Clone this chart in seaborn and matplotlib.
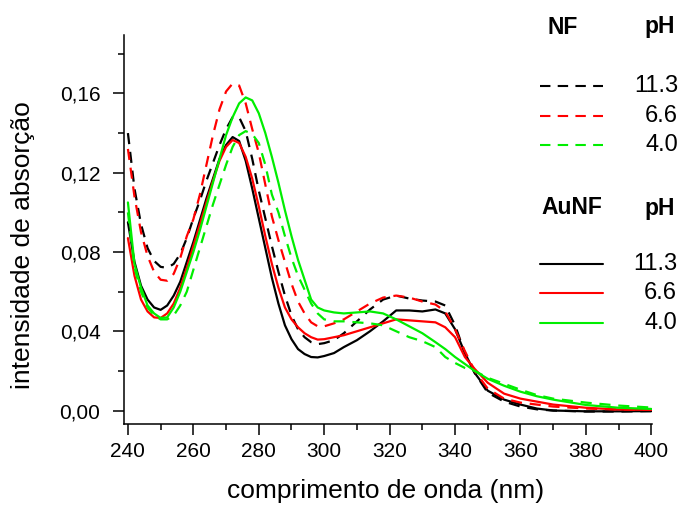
import numpy as np
import pandas as pd
import matplotlib
matplotlib.use("Agg")
import matplotlib.pyplot as plt
from matplotlib.lines import Line2D
import seaborn as sns

# ---------------- data ----------------
wavelength = [240, 242, 244, 246, 248, 250, 252, 254, 256, 258, 260, 262, 264, 266, 268,
              270, 272, 274, 276, 278, 280, 282, 284, 286, 288, 290, 292, 294, 296, 298,
              300, 303, 306, 310, 314, 318, 322, 326, 330, 334, 337, 340, 343, 346, 350,
              355, 360, 365, 370, 380, 390, 400]

nf_113 = [0.140, 0.112, 0.094, 0.082, 0.0755, 0.0725, 0.072, 0.074, 0.079, 0.087, 0.097, 0.106,
          0.116, 0.125, 0.134, 0.142, 0.148, 0.148, 0.141, 0.127, 0.111, 0.097, 0.083, 0.070,
          0.058, 0.048, 0.041, 0.037, 0.0345, 0.0335, 0.034, 0.0355, 0.039, 0.045, 0.051, 0.056,
          0.058, 0.0565, 0.0555, 0.055, 0.053, 0.043, 0.029, 0.019, 0.009, 0.0045, 0.002, 0.0006,
          0.0, -0.0005, -0.0005, -0.0003]
nf_66 = [0.132, 0.108, 0.090, 0.078, 0.070, 0.066, 0.0655, 0.069, 0.077, 0.088, 0.0965, 0.109,
         0.124, 0.139, 0.152, 0.161, 0.165, 0.164, 0.155, 0.142, 0.130, 0.114, 0.098, 0.086,
         0.075, 0.064, 0.055, 0.049, 0.0445, 0.0425, 0.0425, 0.044, 0.046, 0.050, 0.054, 0.057,
         0.058, 0.057, 0.055, 0.0535, 0.050, 0.041, 0.030, 0.020, 0.011, 0.006, 0.004, 0.003,
         0.002, 0.001, 0.0005, 0.0003]
nf_40 = [0.100, 0.072, 0.060, 0.052, 0.048, 0.046, 0.046, 0.048, 0.053, 0.060, 0.071, 0.082,
         0.093, 0.104, 0.114, 0.124, 0.133, 0.139, 0.141, 0.1395, 0.135, 0.124, 0.109, 0.100,
         0.088, 0.077, 0.068, 0.061, 0.054, 0.049, 0.046, 0.045, 0.045, 0.0445, 0.044, 0.043,
         0.040, 0.037, 0.035, 0.032, 0.027, 0.024, 0.0215, 0.020, 0.0165, 0.0135, 0.0105, 0.0078,
         0.006, 0.004, 0.0025, 0.0015]
aunf_113 = [0.095, 0.075, 0.063, 0.056, 0.052, 0.0508, 0.053, 0.058, 0.065, 0.075, 0.085, 0.096,
            0.107, 0.117, 0.127, 0.134, 0.138, 0.136, 0.126, 0.112, 0.097, 0.082, 0.067, 0.054,
            0.043, 0.036, 0.031, 0.0285, 0.027, 0.0268, 0.0275, 0.029, 0.032, 0.0355, 0.040, 0.045,
            0.0505, 0.0505, 0.050, 0.051, 0.049, 0.041, 0.029, 0.019, 0.010, 0.0055, 0.003, 0.001,
            0.0, -0.0004, -0.0004, -0.0003]
aunf_66 = [0.087, 0.068, 0.056, 0.050, 0.047, 0.0467, 0.049, 0.054, 0.062, 0.072, 0.083, 0.094,
           0.105, 0.116, 0.126, 0.133, 0.1365, 0.135, 0.128, 0.117, 0.103, 0.088, 0.074, 0.062,
           0.052, 0.046, 0.042, 0.039, 0.037, 0.0358, 0.036, 0.037, 0.038, 0.040, 0.042, 0.044,
           0.046, 0.0455, 0.045, 0.0445, 0.042, 0.037, 0.027, 0.021, 0.014, 0.0085, 0.006, 0.0045,
           0.003, 0.0014, 0.0005, 0.0003]
aunf_40 = [0.105, 0.074, 0.062, 0.053, 0.049, 0.0467, 0.047, 0.052, 0.060, 0.070, 0.080, 0.091,
           0.103, 0.115, 0.127, 0.139, 0.148, 0.155, 0.158, 0.1565, 0.150, 0.140, 0.128, 0.115,
           0.101, 0.088, 0.076, 0.066, 0.056, 0.052, 0.0505, 0.0495, 0.049, 0.0495, 0.050, 0.049,
           0.046, 0.0425, 0.039, 0.0345, 0.031, 0.027, 0.0235, 0.020, 0.016, 0.0125, 0.0095, 0.0072,
           0.0055, 0.0028, 0.0014, 0.0008]

ph_labels = ["11.3", "6.6", "4.0"]
samples = ["NF", "AuNF"]
colors = ["#000000", "#ff0000", "#00ee00"]

series = {("NF", "11.3"): nf_113, ("NF", "6.6"): nf_66, ("NF", "4.0"): nf_40,
          ("AuNF", "11.3"): aunf_113, ("AuNF", "6.6"): aunf_66, ("AuNF", "4.0"): aunf_40}

rows = []
for (s, ph), vals in series.items():
    for w, v in zip(wavelength, vals):
        rows.append({"wl": w, "abs": v, "pH": ph, "sample": s})
df = pd.DataFrame(rows)

# ---------------- style ----------------
sns.set_style("ticks")
plt.rcParams["font.family"] = ["Liberation Sans", "DejaVu Sans"]
plt.rcParams["text.color"] = "black"
plt.rcParams["axes.labelcolor"] = "black"
plt.rcParams["xtick.color"] = "black"
plt.rcParams["ytick.color"] = "black"

fig = plt.figure(figsize=(6.79, 5.07), dpi=100)
W, H = 679, 507
ax = fig.add_axes([124 / W, 1 - 424 / H, (652 - 124) / W, (424 - 35) / H])

palette = dict(zip(ph_labels, colors))
dash_map = {"NF": (5, 3.5), "AuNF": ""}
sns.lineplot(data=df, x="wl", y="abs", hue="pH", style="sample", palette=palette,
             dashes=dash_map, hue_order=ph_labels, style_order=samples,
             estimator=None, sort=False, legend=False, linewidth=1.6, ax=ax)

ax.set_xlim(238.8, 400.2)
ax.set_ylim(-0.0068, 0.1895)
ax.set_xticks(np.arange(240, 401, 20))
ax.set_xticks(np.arange(250, 400, 20), minor=True)
ax.set_yticks([0.00, 0.04, 0.08, 0.12, 0.16])
ax.set_yticks([0.02, 0.06, 0.10, 0.14, 0.18], minor=True)
ax.set_yticklabels(["0,00", "0,04", "0,08", "0,12", "0,16"])
ax.tick_params(axis="both", which="major", length=8, width=1.1, labelsize=15, color="black",
               labelcolor="black")
ax.tick_params(axis="y", which="major", pad=9)
ax.tick_params(axis="x", which="major", pad=5)
ax.tick_params(axis="both", which="minor", length=4.5, width=1.1, color="black")
for side in ["top", "right"]:
    ax.spines[side].set_visible(False)
for side in ["left", "bottom"]:
    ax.spines[side].set_linewidth(1.1)
    ax.spines[side].set_color("black")

ax.set_xlabel("comprimento de onda (nm)", fontsize=19, color="black")
ax.set_ylabel("intensidade de absorção", fontsize=19, color="black")
ax.xaxis.set_label_coords((386 - 124) / 528, (424 - 479) / 389)
ax.yaxis.set_label_coords((35 - 124) / 528, (424 - 245) / 389)

# ---------------- legend (manual, figure coords) ----------------
def fx(x):
    return x / W

def fy(y):
    return 1 - y / H

fig.text(fx(563), fy(27), "NF", ha="center", va="center", fontsize=16.5, fontweight="bold")
fig.text(fx(644), fy(27), "pH", ha="left", va="center", fontsize=16.5, fontweight="bold")
fig.text(fx(572), fy(208), "AuNF", ha="center", va="center", fontsize=16.5, fontweight="bold")
fig.text(fx(644), fy(208), "pH", ha="left", va="center", fontsize=16.5, fontweight="bold")

nf_rows = [86, 116, 145]
au_rows = [264, 293, 323]
for i, ph in enumerate(ph_labels):
    fig.add_artist(Line2D([fx(540), fx(603)], [fy(nf_rows[i])] * 2, color=colors[i],
                          lw=1.5, dashes=(5, 3.5)))
    fig.text(fx(678), fy(nf_rows[i]), ph, ha="right", va="center", fontsize=17)
    fig.add_artist(Line2D([fx(540), fx(603)], [fy(au_rows[i])] * 2, color=colors[i], lw=1.5))
    fig.text(fx(677), fy(au_rows[i]), ph, ha="right", va="center", fontsize=17)

fig.savefig("out.png", dpi=100)
